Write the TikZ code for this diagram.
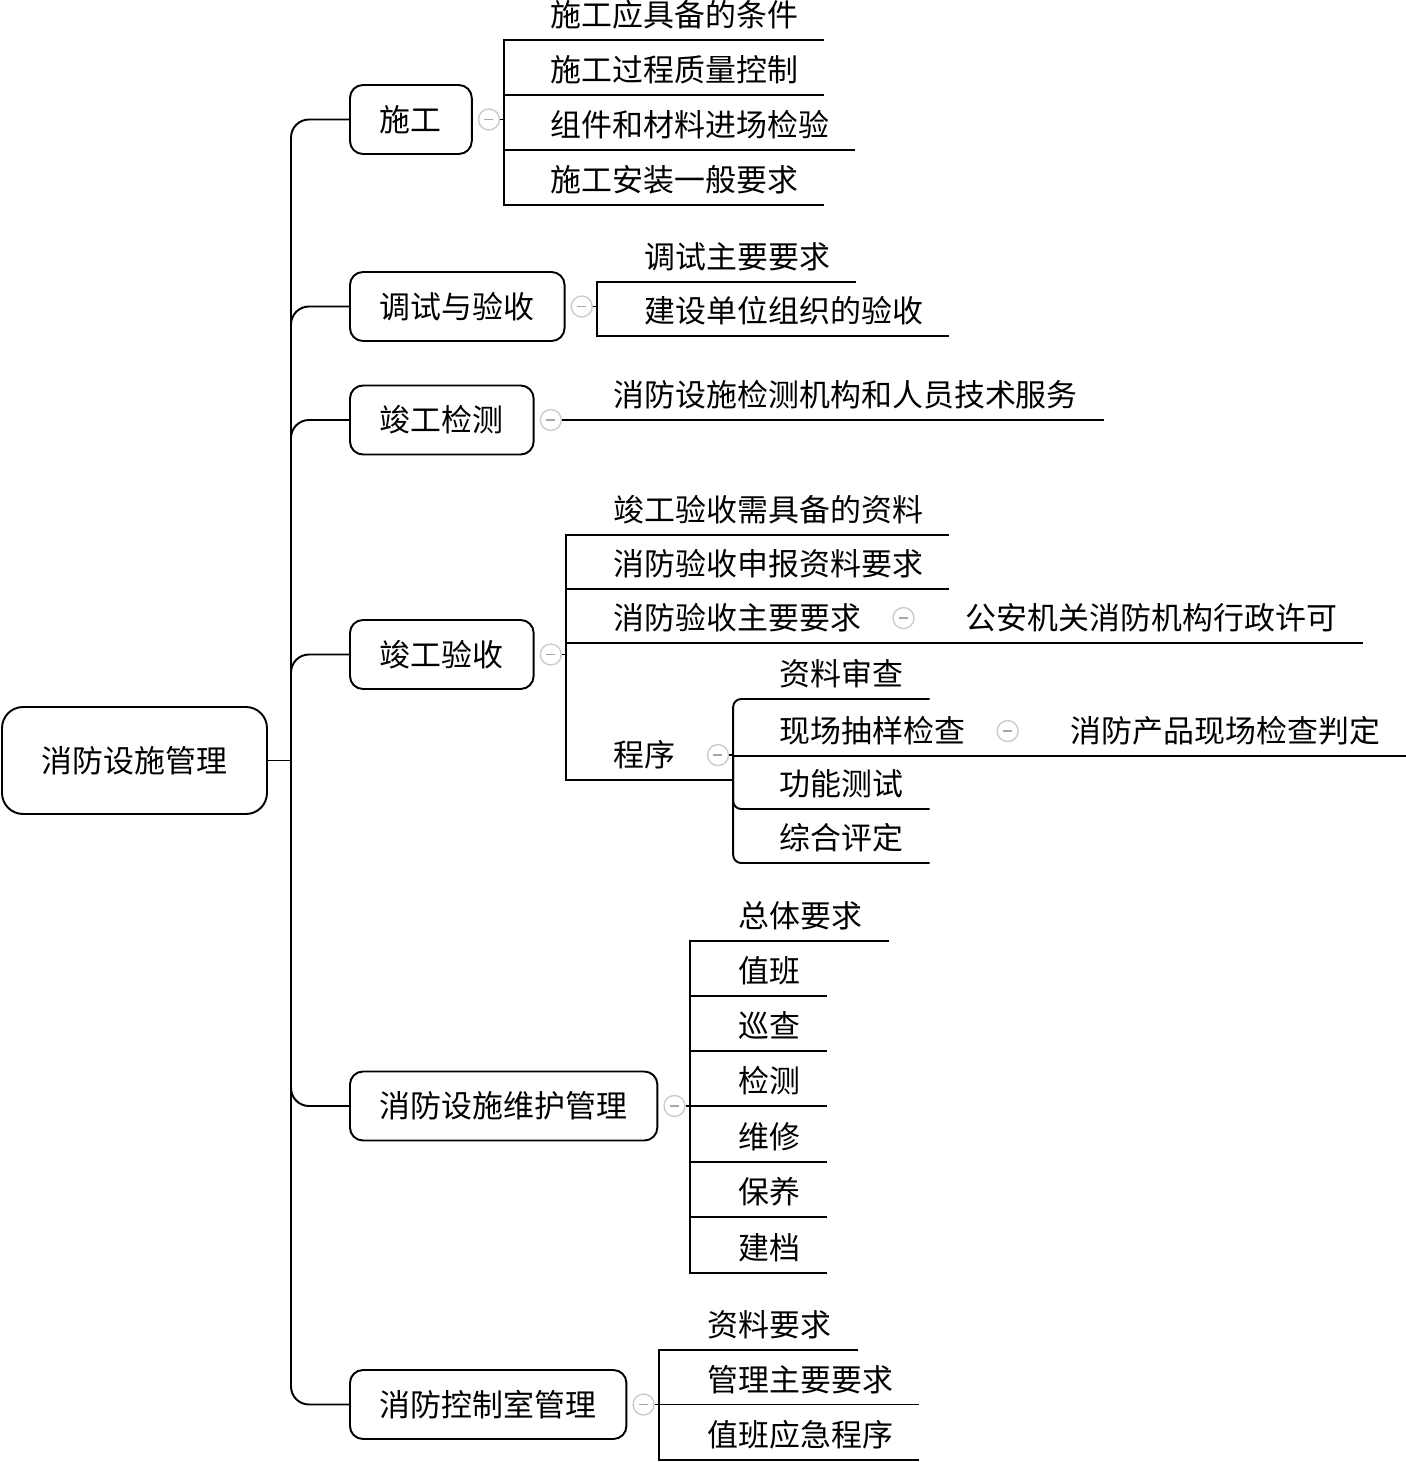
\documentclass[tikz,border=0pt]{standalone}
\usepackage{fontspec}
\setmainfont{Noto Sans CJK SC}
\usetikzlibrary{positioning}

\begin{document}
\begin{tikzpicture}[x=0.02cm, y=-0.02cm, line width=1.1pt,
    font=\fontsize{17.6pt}{21pt}\selectfont,
    zh/.style={text height=15.5pt, text depth=2.1pt},
    root/.style={zh, draw, rounded corners=0.42cm, minimum width=5.3cm, minimum height=2.14cm},
    topic/.style={zh, draw, rounded corners=0.26cm, minimum height=1.38cm, inner xsep=0.6cm, anchor=west},
    leaf/.style={zh, inner xsep=0.5cm, inner ysep=0.17cm, anchor=south west},
    fold/.style={circle, draw=gray!40, fill=white, line width=0.8pt, minimum size=0.42cm, inner sep=0pt,
      path picture={\draw[gray!70, line width=0.8pt] ([xshift=-0.09cm]path picture bounding box.center) -- ([xshift=0.09cm]path picture bounding box.center);}},
    branch/.style={rounded corners=0.36cm}]
\useasboundingbox (0,0) rectangle (1405,1462);

% root and main branches
\node[root] (root) at (134.5,760.5) {消防设施管理};
\coordinate (hub) at (291,760.5);
\node[topic] (sg) at (349,119.5) {施工};
\node[topic] (ts) at (349,306.5) {调试与验收};
\node[topic] (jc) at (349,420) {竣工检测};
\node[topic] (ys) at (349,654.5) {竣工验收};
\node[topic] (wh) at (349,1106) {消防设施维护管理};
\node[topic] (kz) at (349,1404.5) {消防控制室管理};
\draw (root.east) -- (hub);
\draw[branch] (hub) |- (sg.west);
\draw[branch] (hub) |- (ts.west);
\draw[branch] (hub) |- (jc.west);
\draw[branch] (hub) |- (ys.west);
\draw[branch] (hub) |- (wh.west);
\draw[branch] (hub) |- (kz.west);

% fold marks
\node[fold, right=0.1cm of sg] (fsg) {};
\node[fold, right=0.1cm of ts] (fts) {};
\node[fold, right=0.1cm of jc] (fjc) {};
\node[fold, right=0.1cm of ys] (fys) {};
\node[fold, right=0.1cm of wh] (fwh) {};
\node[fold, right=0.1cm of kz] (fkz) {};
\coordinate (bsg) at ([xshift=0.08cm]fsg.east);
\coordinate (bts) at ([xshift=0.08cm]fts.east);
\coordinate (bys) at ([xshift=0.08cm]fys.east);
\coordinate (bwh) at ([xshift=0.08cm]fwh.east);
\coordinate (bkz) at ([xshift=0.08cm]fkz.east);
\draw (fsg.east) -- (bsg);
\draw (fts.east) -- (bts);
\draw (fys.east) -- (bys);
\draw (fwh.east) -- (bwh);
\draw (fkz.east) -- (bkz);

% 施工
\node[leaf] (sg1) at (525,40) {施工应具备的条件};
\node[leaf] (sg2) at (525,95) {施工过程质量控制};
\node[leaf] (sg3) at (525,150) {组件和材料进场检验};
\node[leaf] (sg4) at (525,205) {施工安装一般要求};
\draw (bsg) |- (sg1.south west) -- (sg1.south east);
\draw (bsg) |- (sg2.south west) -- (sg2.south east);
\draw (bsg) |- (sg3.south west) -- (sg3.south east);
\draw (bsg) |- (sg4.south west) -- (sg4.south east);

% 调试与验收
\node[leaf] (ts1) at (619,282) {调试主要要求};
\node[leaf] (ts2) at (619,336) {建设单位组织的验收};
\draw (bts) |- (ts1.south west) -- (ts1.south east);
\draw (bts) |- (ts2.south west) -- (ts2.south east);

% 竣工检测
\node[leaf] (jc1) at (588,420) {消防设施检测机构和人员技术服务};
\draw (fjc.east) -- (jc1.south west) -- (jc1.south east);

% 竣工验收
\node[leaf] (ys1) at (588,535) {竣工验收需具备的资料};
\node[leaf] (ys2) at (588,589) {消防验收申报资料要求};
\node[leaf] (ys3) at (588,643) {消防验收主要要求};
\node[leaf] (ys4) at (588,780) {程序};
\node[leaf] (ys31) at (940,643) {公安机关消防机构行政许可};
\node[fold, right=0.1cm of ys3] (fys3) {};
\node[fold, right=0.1cm of ys4] (fys4) {};
\coordinate (bys4) at ([xshift=0.08cm]fys4.east);
\draw (bys) |- (ys1.south west) -- (ys1.south east);
\draw (bys) |- (ys2.south west) -- (ys2.south east);
\draw (bys) |- (ys3.south west) -- (ys3.south east) -- (ys31.south west) -- (ys31.south east);
\draw (bys) |- (ys4.south west) -- (bys4 |- ys4.south);
\draw (fys4.east) -- (bys4);

% 程序
\node[leaf] (cx1) at (754,699) {资料审查};
\node[leaf] (cx2) at (754,756) {现场抽样检查};
\node[leaf] (cx3) at (754,809) {功能测试};
\node[leaf] (cx4) at (754,863) {综合评定};
\node[leaf] (cx21) at (1045,756) {消防产品现场检查判定};
\node[fold, right=0.1cm of cx2] (fcx2) {};
\draw[rounded corners=0.16cm] (bys4) |- (cx1.south west) -- (cx1.south east);
\draw (bys4) |- (cx2.south west) -- (cx2.south east) -- (cx21.south west) -- (cx21.south east);
\draw[rounded corners=0.16cm] (bys4) |- (cx3.south west) -- (cx3.south east);
\draw[rounded corners=0.16cm] (bys4) |- (cx4.south west) -- (cx4.south east);

% 消防设施维护管理
\node[leaf] (wh1) at (713,941) {总体要求};
\node[leaf] (wh2) at (713,996) {值班};
\node[leaf] (wh3) at (713,1051) {巡查};
\node[leaf] (wh4) at (713,1106) {检测};
\node[leaf] (wh5) at (713,1162) {维修};
\node[leaf] (wh6) at (713,1217) {保养};
\node[leaf] (wh7) at (713,1273) {建档};
\draw (bwh) |- (wh1.south west) -- (wh1.south east);
\draw (bwh) |- (wh2.south west) -- (wh2.south east);
\draw (bwh) |- (wh3.south west) -- (wh3.south east);
\draw (bwh) |- (wh4.south west) -- (wh4.south east);
\draw (bwh) |- (wh5.south west) -- (wh5.south east);
\draw (bwh) |- (wh6.south west) -- (wh6.south east);
\draw (bwh) |- (wh7.south west) -- (wh7.south east);

% 消防控制室管理
\node[leaf] (kz1) at (682,1350) {资料要求};
\node[leaf] (kz2) at (682,1404.5) {管理主要要求};
\node[leaf] (kz3) at (682,1460) {值班应急程序};
\draw (bkz) |- (kz1.south west) -- (kz1.south east);
\draw (bkz) |- (kz2.south west) -- (kz2.south east);
\draw (bkz) |- (kz3.south west) -- (kz3.south east);
\end{tikzpicture}
\end{document}
